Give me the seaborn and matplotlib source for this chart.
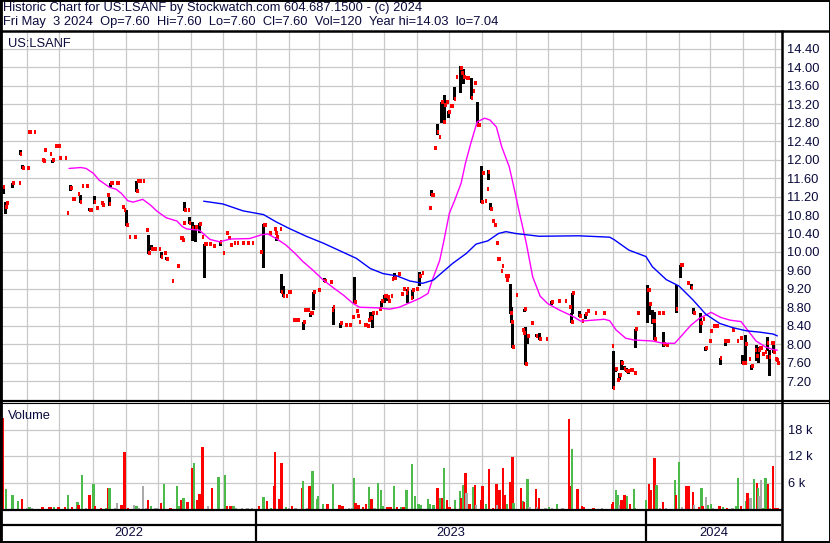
import matplotlib
matplotlib.use('Agg')
import matplotlib.pyplot as plt
import matplotlib.dates as mdates
import pandas as pd
import seaborn as sns

# ---- chart data ----
close_dates = [
    '2022-05-09', '2022-05-11', '2022-05-12', '2022-05-18', '2022-05-24', '2022-05-25', '2022-05-27',
    '2022-06-01', '2022-06-02', '2022-06-03', '2022-06-07', '2022-06-15', '2022-06-16', '2022-06-17', '2022-06-22', '2022-06-24', '2022-06-27', '2022-06-28', '2022-06-30',
    '2022-07-01', '2022-07-06', '2022-07-08', '2022-07-11', '2022-07-13', '2022-07-14', '2022-07-18', '2022-07-20', '2022-07-22', '2022-07-26', '2022-07-29', '2022-07-30',
    '2022-08-02', '2022-08-04', '2022-08-05', '2022-08-09', '2022-08-10', '2022-08-15', '2022-08-16', '2022-08-17', '2022-08-19', '2022-08-23', '2022-08-24', '2022-08-29', '2022-08-30',
    '2022-09-01', '2022-09-02', '2022-09-04', '2022-09-09', '2022-09-11', '2022-09-12', '2022-09-14', '2022-09-17', '2022-09-20', '2022-09-22', '2022-09-25', '2022-09-26', '2022-09-28',
    '2022-10-02', '2022-10-04', '2022-10-07', '2022-10-09', '2022-10-14', '2022-10-19', '2022-10-22', '2022-10-23', '2022-10-24', '2022-10-25', '2022-10-26', '2022-10-29', '2022-10-30',
    '2022-11-02', '2022-11-05', '2022-11-09', '2022-11-11', '2022-11-13', '2022-11-15', '2022-11-18', '2022-11-22', '2022-11-28',
    '2022-12-01', '2022-12-04', '2022-12-06', '2022-12-08', '2022-12-11', '2022-12-14', '2022-12-19', '2022-12-24', '2022-12-28',
    '2023-01-05', '2023-01-08', '2023-01-09', '2023-01-13', '2023-01-14', '2023-01-18', '2023-01-19', '2023-01-20', '2023-01-23', '2023-01-24', '2023-01-26', '2023-01-29', '2023-01-31',
    '2023-02-01', '2023-02-05', '2023-02-07', '2023-02-09', '2023-02-14', '2023-02-15', '2023-02-18', '2023-02-21', '2023-02-22', '2023-02-23', '2023-02-24', '2023-02-28',
    '2023-03-06', '2023-03-11', '2023-03-12', '2023-03-13', '2023-03-14', '2023-03-21', '2023-03-25', '2023-03-26', '2023-03-29',
    '2023-04-01', '2023-04-03', '2023-04-05', '2023-04-06', '2023-04-07', '2023-04-12', '2023-04-13', '2023-04-15', '2023-04-16', '2023-04-18', '2023-04-20', '2023-04-23', '2023-04-26', '2023-04-27', '2023-04-28',
    '2023-05-01', '2023-05-02', '2023-05-04', '2023-05-05', '2023-05-07', '2023-05-08', '2023-05-10', '2023-05-11', '2023-05-14', '2023-05-17', '2023-05-19', '2023-05-21', '2023-05-22', '2023-05-26', '2023-05-27', '2023-05-31',
    '2023-06-03', '2023-06-05', '2023-06-12', '2023-06-14', '2023-06-15', '2023-06-17', '2023-06-19', '2023-06-21', '2023-06-23', '2023-06-24', '2023-06-25', '2023-06-26', '2023-06-28', '2023-06-30',
    '2023-07-02', '2023-07-03', '2023-07-05', '2023-07-07', '2023-07-11', '2023-07-12', '2023-07-14', '2023-07-17', '2023-07-18', '2023-07-21', '2023-07-23', '2023-07-24', '2023-07-27', '2023-07-28', '2023-07-31',
    '2023-08-01', '2023-08-03', '2023-08-05', '2023-08-06', '2023-08-08', '2023-08-10', '2023-08-12', '2023-08-14', '2023-08-15', '2023-08-16', '2023-08-18', '2023-08-19', '2023-08-22', '2023-08-23', '2023-08-24', '2023-08-27', '2023-08-28', '2023-08-29',
    '2023-09-01', '2023-09-07', '2023-09-08', '2023-09-09', '2023-09-10', '2023-09-12', '2023-09-15', '2023-09-16', '2023-09-20', '2023-09-23', '2023-09-29',
    '2023-10-04', '2023-10-05', '2023-10-11', '2023-10-17', '2023-10-21', '2023-10-23', '2023-10-24', '2023-10-30', '2023-10-31',
    '2023-11-02', '2023-11-05', '2023-11-07', '2023-11-14', '2023-11-22', '2023-11-30',
    '2023-12-01', '2023-12-03', '2023-12-05', '2023-12-07', '2023-12-09', '2023-12-11', '2023-12-13', '2023-12-15', '2023-12-17', '2023-12-18', '2023-12-21', '2023-12-22', '2023-12-24',
    '2024-01-02', '2024-01-03', '2024-01-04', '2024-01-07', '2024-01-08', '2024-01-09', '2024-01-12', '2024-01-13', '2024-01-16', '2024-01-17', '2024-01-20', '2024-01-29',
    '2024-02-02', '2024-02-03', '2024-02-08', '2024-02-09', '2024-02-12', '2024-02-14', '2024-02-21', '2024-02-23', '2024-02-25', '2024-02-26', '2024-02-29',
    '2024-03-01', '2024-03-04', '2024-03-05', '2024-03-06', '2024-03-07', '2024-03-10', '2024-03-14', '2024-03-15', '2024-03-17', '2024-03-22', '2024-03-26', '2024-03-29', '2024-03-31',
    '2024-04-02', '2024-04-03', '2024-04-06', '2024-04-08', '2024-04-09', '2024-04-12', '2024-04-13', '2024-04-15', '2024-04-16', '2024-04-17', '2024-04-19', '2024-04-21', '2024-04-22', '2024-04-23', '2024-04-25', '2024-04-27', '2024-04-28', '2024-04-29',
    '2024-05-01', '2024-05-02', '2024-05-03',
]
closes = [
    11.41, 10.97, 11.06, 11.49, 11.49, 12.12, 11.82,
    11.82, 12.60, 12.60, 12.60, 11.99, 11.97, 12.20, 12.12, 11.99, 12.29, 12.29, 12.29,
    12.03, 12.03, 10.84, 11.38, 11.15, 11.15, 11.25, 11.08, 11.43, 11.43, 10.91, 10.91,
    11.08, 10.95, 10.95, 11.06, 11.01, 11.23, 11.03, 11.49, 11.49, 11.49, 11.49, 10.97, 10.91,
    10.58, 10.58, 10.32, 10.32, 11.32, 11.53, 11.53, 11.53, 10.47, 9.97, 10.06, 10.06, 10.06,
    10.06, 9.89, 9.97, 9.84, 9.37, 9.69, 10.30, 10.30, 10.26, 10.62, 10.91, 10.91, 10.62,
    10.52, 10.54, 10.60, 10.32, 10.17, 10.17, 10.17, 10.13, 10.21,
    9.97, 10.41, 10.30, 10.15, 10.19, 10.19, 10.19, 10.19, 10.19,
    9.99, 10.58, 10.58, 10.41, 10.41, 10.49, 10.41, 10.32, 10.49, 9.13, 9.04, 9.04, 9.13,
    9.13, 8.52, 8.52, 8.52, 8.48, 8.74, 8.74, 8.67, 8.67, 9.13, 9.13, 9.17,
    9.37, 9.35, 9.35, 8.74, 8.80, 8.46, 8.41, 8.41, 8.41,
    8.59, 8.91, 8.72, 8.61, 8.48, 8.41, 8.41, 8.39, 8.52, 8.57, 8.67, 8.67, 8.76, 8.76, 8.93,
    9.04, 9.04, 9.02, 8.93, 9.04, 9.41, 9.43, 9.43, 9.52, 9.09, 9.19, 9.11, 9.19, 9.00, 9.17, 9.19,
    9.48, 9.54, 10.96, 11.23, 11.23, 12.25, 12.60, 12.49, 13.25, 13.25, 12.81, 13.18, 13.25, 13.03,
    13.16, 13.16, 13.31, 13.79, 13.99, 13.88, 13.79, 13.77, 13.77, 13.34, 13.49, 13.66, 12.75, 12.75, 11.08,
    11.71, 11.10, 11.36, 11.73, 10.93, 10.67, 10.58, 10.19, 9.84, 9.84, 9.58, 9.69, 9.48, 9.39, 9.48, 8.67, 8.48, 7.94,
    9.06, 8.30, 8.24, 8.76, 7.57, 8.18, 8.46, 8.46, 8.18, 8.11, 8.11,
    8.91, 8.91, 8.93, 8.93, 8.80, 8.48, 9.11, 8.61, 8.61,
    8.50, 8.65, 8.72, 8.67, 8.67, 7.96,
    7.04, 7.46, 7.22, 7.33, 7.59, 7.46, 7.42, 7.42, 7.44, 7.44, 7.37, 8.33, 8.67,
    9.17, 9.17, 8.87, 8.50, 8.50, 8.11, 8.67, 8.67, 8.67, 8.00, 7.98, 8.76,
    9.71, 9.71, 9.32, 9.32, 9.22, 8.67, 8.46, 8.54, 7.92, 7.92, 8.07,
    8.28, 8.39, 8.39, 8.39, 8.39, 7.70, 8.07, 8.07, 8.07, 8.30, 8.07, 8.13, 7.59,
    7.59, 8.00, 7.68, 7.53, 7.53, 7.87, 7.74, 7.87, 7.92, 7.92, 7.79, 7.83, 7.72, 8.02, 7.72, 8.02, 8.02, 7.83,
    7.68, 7.66, 7.60,
]

# days that traded in a range (high/low bar)
range_dates = [
    '2022-05-09', '2022-05-11', '2022-05-18', '2022-05-25', '2022-05-27', '2022-06-24', '2022-07-11', '2022-07-20',
    '2022-07-29', '2022-08-02', '2022-08-16', '2022-08-17', '2022-09-01', '2022-09-11', '2022-09-22', '2022-09-25',
    '2022-10-04', '2022-10-09', '2022-10-26', '2022-10-30', '2022-11-02', '2022-11-05', '2022-11-09', '2022-11-13', '2022-11-28',
    '2023-01-08', '2023-01-20', '2023-01-24', '2023-01-26', '2023-02-14', '2023-02-21', '2023-02-23', '2023-03-06',
    '2023-03-14', '2023-03-21', '2023-04-03', '2023-04-18', '2023-04-20', '2023-04-28', '2023-05-01', '2023-05-04',
    '2023-05-10', '2023-05-22', '2023-05-27', '2023-06-03', '2023-06-14', '2023-06-19', '2023-06-23', '2023-06-26',
    '2023-06-30', '2023-07-05', '2023-07-11', '2023-07-14', '2023-07-21', '2023-07-27', '2023-07-31', '2023-08-06',
    '2023-08-08', '2023-08-27', '2023-08-28', '2023-08-29', '2023-09-09', '2023-09-10', '2023-09-12', '2023-09-20',
    '2023-09-23', '2023-10-04', '2023-10-23', '2023-10-24', '2023-10-30', '2023-11-05', '2023-12-01', '2023-12-03',
    '2023-12-07', '2023-12-09', '2023-12-11', '2023-12-13', '2023-12-15', '2023-12-22',
    '2024-01-02', '2024-01-04', '2024-01-07', '2024-01-09', '2024-01-17', '2024-01-29', '2024-02-02', '2024-02-12',
    '2024-02-14', '2024-02-21', '2024-02-25', '2024-03-10', '2024-03-15', '2024-03-31', '2024-04-03', '2024-04-08',
    '2024-04-13', '2024-04-15', '2024-04-23', '2024-04-25', '2024-04-29',
]
range_high = [
    11.41, 11.08, 11.49, 12.20, 11.88, 11.99, 11.45, 11.23,
    10.95, 11.21, 11.19, 11.49, 10.91, 11.53, 10.36, 10.14,
    10.00, 9.89, 11.08, 10.76, 10.65, 10.58, 10.62, 10.17, 10.24,
    10.60, 10.32, 9.52, 9.26, 8.48, 8.67, 9.13, 9.43,
    8.80, 8.46, 9.45, 8.70, 8.67, 8.93, 9.06, 9.02,
    9.54, 9.19, 9.17, 9.56, 11.34, 12.77, 13.25, 13.40,
    13.05, 13.57, 14.03, 13.97, 13.77, 13.25, 11.86, 11.77,
    11.06, 9.30, 8.80, 8.48, 8.76, 8.37, 8.18, 8.22,
    8.24, 8.93, 8.67, 9.11, 8.72, 8.65, 7.85, 7.48,
    7.37, 7.66, 7.53, 7.48, 7.44, 8.33,
    9.28, 8.87, 8.74, 8.70, 8.26, 9.28, 9.71, 9.30,
    8.78, 8.67, 7.94, 7.70, 8.07, 7.76, 8.20, 7.55,
    7.98, 7.94, 8.15, 7.87, 8.02,
]
range_low = [
    11.28, 10.84, 11.41, 12.12, 11.82, 11.94, 11.34, 11.08,
    10.91, 11.06, 11.01, 11.43, 10.58, 11.32, 9.97, 10.06,
    9.89, 9.84, 10.91, 10.62, 10.26, 10.24, 10.43, 9.45, 10.15,
    9.67, 10.26, 9.13, 9.04, 8.33, 8.61, 8.76, 9.37,
    8.44, 8.37, 8.91, 8.57, 8.37, 8.83, 8.91, 8.96,
    9.43, 8.91, 9.00, 9.28, 11.23, 12.56, 12.81, 12.79,
    12.92, 13.31, 13.47, 13.66, 13.34, 12.75, 11.08, 11.58,
    10.93, 8.67, 8.48, 7.94, 8.72, 7.57, 8.02, 8.18,
    8.11, 8.87, 8.48, 8.67, 8.61, 8.57, 7.04, 7.42,
    7.24, 7.46, 7.46, 7.42, 7.37, 7.94,
    8.48, 8.65, 8.46, 8.11, 7.96, 8.69, 9.45, 9.22,
    8.67, 8.26, 7.87, 7.57, 7.98, 7.59, 7.59, 7.46,
    7.66, 7.61, 7.87, 7.33, 7.83,
]

# short moving average (pink) and long moving average (blue)
ma_fast_dates = [
    '2022-07-10', '2022-07-21', '2022-07-26', '2022-08-02', '2022-08-07', '2022-08-17', '2022-08-23', '2022-08-28',
    '2022-09-03', '2022-09-08', '2022-09-17', '2022-09-24', '2022-09-30', '2022-10-09', '2022-10-19', '2022-10-24',
    '2022-10-28', '2022-11-09', '2022-11-19', '2022-11-28', '2022-12-08', '2022-12-26',
    '2023-01-06', '2023-01-12', '2023-01-20', '2023-01-29', '2023-02-06', '2023-02-14', '2023-02-23', '2023-03-05',
    '2023-03-14', '2023-03-24', '2023-04-02', '2023-04-08', '2023-04-24', '2023-05-06', '2023-05-15', '2023-05-23',
    '2023-06-03', '2023-06-11', '2023-06-15', '2023-06-22', '2023-06-26', '2023-07-01', '2023-07-06', '2023-07-12',
    '2023-07-16', '2023-07-21', '2023-07-27', '2023-08-03', '2023-08-08', '2023-08-14', '2023-08-19', '2023-08-26',
    '2023-08-31', '2023-09-04', '2023-09-11', '2023-09-17', '2023-09-24', '2023-10-01', '2023-10-12', '2023-10-24',
    '2023-11-01', '2023-11-12', '2023-11-23', '2023-11-28', '2023-12-04', '2023-12-13', '2023-12-21',
    '2024-01-07', '2024-01-17', '2024-01-28', '2024-02-04', '2024-02-12', '2024-02-20', '2024-03-02', '2024-03-11',
    '2024-03-20', '2024-03-30', '2024-04-05', '2024-04-13', '2024-04-22', '2024-04-28', '2024-05-03',
]
ma_fast = [
    11.81, 11.83, 11.81, 11.70, 11.56, 11.40, 11.36, 11.27,
    11.11, 11.08, 11.14, 11.02, 10.89, 10.74, 10.67, 10.55,
    10.50, 10.47, 10.27, 10.22, 10.28, 10.29,
    10.37, 10.39, 10.29, 10.15, 9.98, 9.79, 9.61, 9.39,
    9.23, 9.06, 8.88, 8.80, 8.79, 8.76, 8.80, 8.88,
    8.99, 9.10, 9.39, 9.82, 10.26, 10.84, 11.12, 11.49,
    11.92, 12.35, 12.82, 12.90, 12.86, 12.71, 12.28, 11.85,
    11.34, 10.91, 10.19, 9.46, 9.04, 8.88, 8.74, 8.61,
    8.50, 8.52, 8.54, 8.51, 8.31, 8.13, 8.09,
    8.07, 8.02, 8.02, 8.20, 8.41, 8.56, 8.69, 8.58,
    8.52, 8.49, 8.31, 8.07, 7.94, 7.89, 7.87,
]
ma_slow_dates = [
    '2022-11-13', '2022-12-01', '2022-12-20',
    '2023-01-08', '2023-01-20', '2023-02-01', '2023-02-17', '2023-03-05', '2023-03-21', '2023-04-05', '2023-04-18',
    '2023-04-30', '2023-05-13', '2023-05-25', '2023-06-06', '2023-06-16', '2023-06-25', '2023-07-04', '2023-07-17',
    '2023-07-26', '2023-08-06', '2023-08-16', '2023-08-23', '2023-09-01', '2023-09-23', '2023-10-30', '2023-11-28',
    '2023-12-02', '2023-12-16',
    '2024-01-01', '2024-01-07', '2024-01-20', '2024-02-01', '2024-02-14', '2024-02-26', '2024-03-10', '2024-03-22',
    '2024-04-04', '2024-04-17', '2024-04-29', '2024-05-03',
]
ma_slow = [
    11.10, 11.04, 10.89,
    10.81, 10.65, 10.51, 10.34, 10.19, 10.02, 9.86, 9.64,
    9.53, 9.48, 9.37, 9.32, 9.39, 9.57, 9.75, 9.97,
    10.17, 10.24, 10.40, 10.44, 10.40, 10.34, 10.35, 10.32,
    10.27, 10.04,
    9.90, 9.68, 9.40, 9.26, 8.96, 8.65, 8.45, 8.36,
    8.29, 8.26, 8.22, 8.18,
]

# volume: d = down day (red), u = up day (green), n = unchanged (grey)
vol_dates = [
    '2022-05-09', '2022-05-12', '2022-05-18', '2022-05-23', '2022-05-27',
    '2022-06-01', '2022-06-03', '2022-06-05', '2022-06-15', '2022-06-21', '2022-06-23', '2022-06-26', '2022-06-30',
    '2022-07-06', '2022-07-09', '2022-07-13', '2022-07-18', '2022-07-19', '2022-07-22', '2022-07-26', '2022-07-29',
    '2022-08-02', '2022-08-03', '2022-08-09', '2022-08-14', '2022-08-16', '2022-08-17', '2022-08-22', '2022-08-24', '2022-08-28', '2022-08-31',
    '2022-09-03', '2022-09-09', '2022-09-11', '2022-09-13', '2022-09-17', '2022-09-20', '2022-09-22', '2022-09-25', '2022-09-29',
    '2022-10-01', '2022-10-04', '2022-10-07', '2022-10-13', '2022-10-19', '2022-10-21', '2022-10-23', '2022-10-25', '2022-10-29',
    '2022-11-02', '2022-11-04', '2022-11-07', '2022-11-09', '2022-11-12', '2022-11-17', '2022-11-21', '2022-11-27',
    '2022-12-03', '2022-12-05', '2022-12-08', '2022-12-11', '2022-12-13', '2022-12-19', '2022-12-24', '2022-12-28',
    '2023-01-04', '2023-01-08', '2023-01-11', '2023-01-15', '2023-01-18', '2023-01-19', '2023-01-23', '2023-01-25', '2023-01-29',
    '2023-02-01', '2023-02-04', '2023-02-07', '2023-02-13', '2023-02-14', '2023-02-18', '2023-02-20', '2023-02-23', '2023-02-27', '2023-02-28',
    '2023-03-05', '2023-03-09', '2023-03-14', '2023-03-20', '2023-03-23', '2023-03-29',
    '2023-04-01', '2023-04-03', '2023-04-04', '2023-04-07', '2023-04-11', '2023-04-14', '2023-04-17', '2023-04-19', '2023-04-22', '2023-04-25', '2023-04-28', '2023-04-30',
    '2023-05-04', '2023-05-07', '2023-05-10', '2023-05-13', '2023-05-17', '2023-05-19', '2023-05-22', '2023-05-27', '2023-05-30',
    '2023-06-02', '2023-06-04', '2023-06-11', '2023-06-13', '2023-06-16', '2023-06-20', '2023-06-22', '2023-06-24', '2023-06-26', '2023-06-29',
    '2023-07-01', '2023-07-06', '2023-07-11', '2023-07-12', '2023-07-14', '2023-07-16', '2023-07-17', '2023-07-20', '2023-07-23', '2023-07-25', '2023-07-26', '2023-07-31',
    '2023-08-01', '2023-08-04', '2023-08-07', '2023-08-11', '2023-08-14', '2023-08-15', '2023-08-17', '2023-08-20', '2023-08-22', '2023-08-24', '2023-08-27', '2023-08-29', '2023-08-30',
    '2023-09-06', '2023-09-08', '2023-09-09', '2023-09-12', '2023-09-14', '2023-09-20', '2023-09-21', '2023-09-23', '2023-09-29',
    '2023-10-02', '2023-10-05', '2023-10-10', '2023-10-15', '2023-10-21', '2023-10-23', '2023-10-24', '2023-10-29',
    '2023-11-02', '2023-11-04', '2023-11-13', '2023-11-21', '2023-11-30',
    '2023-12-01', '2023-12-04', '2023-12-06', '2023-12-07', '2023-12-09', '2023-12-12', '2023-12-14', '2023-12-17', '2023-12-21', '2023-12-22',
    '2024-01-01', '2024-01-04', '2024-01-06', '2024-01-09', '2024-01-11', '2024-01-14', '2024-01-17', '2024-01-20', '2024-01-28', '2024-01-29',
    '2024-02-01', '2024-02-04', '2024-02-08', '2024-02-10', '2024-02-14', '2024-02-15', '2024-02-20', '2024-02-22', '2024-02-23', '2024-02-26', '2024-02-28',
    '2024-03-02', '2024-03-04', '2024-03-10', '2024-03-13', '2024-03-17', '2024-03-22', '2024-03-25', '2024-03-27', '2024-03-30',
    '2024-04-04', '2024-04-05', '2024-04-08', '2024-04-11', '2024-04-14', '2024-04-15', '2024-04-16', '2024-04-18', '2024-04-20', '2024-04-22', '2024-04-24', '2024-04-26', '2024-04-29',
    '2024-05-01', '2024-05-02', '2024-05-03',
]
vol_values = [
    20500, 4500, 3200, 1700, 2300,
    300, 500, 300, 450, 400, 400, 500, 400,
    400, 3200, 400, 1600, 900, 7700, 300, 3200,
    5700, 700, 300, 300, 4800, 4700, 300, 1400, 900, 12800,
    200, 900, 700, 300, 5200, 300, 2000, 700, 300,
    300, 1400, 5700, 300, 5200, 700, 2000, 2500, 1600,
    9300, 10400, 2000, 3300, 14000, 700, 4800, 7200,
    7700, 700, 700, 700, 300, 300, 300, 300,
    700, 2700, 1700, 200, 5200, 12800, 2300, 10400, 400,
    300, 700, 300, 4800, 6400, 300, 5200, 8500, 2200, 2900,
    1100, 1100, 5700, 900, 700, 300,
    300, 7000, 1400, 900, 500, 1100, 5000, 2300, 300, 5900, 4200, 700,
    500, 500, 5200, 500, 500, 500, 4300, 10200, 2900,
    1100, 900, 2300, 1100, 900, 4800, 2400, 2500, 9300, 2000,
    500, 2000, 4100, 2500, 5400, 8200, 3600, 1100, 5000, 5400, 900, 2000,
    5200, 1100, 9100, 200, 5700, 900, 4300, 9300, 3200, 1100, 6100, 11800, 1400,
    4800, 1800, 1600, 6800, 500, 4500, 500, 2500, 200,
    500, 200, 1100, 200, 20400, 5200, 13600, 4500,
    700, 500, 200, 200, 1100,
    1600, 4300, 3200, 900, 2000, 3200, 2900, 1100, 4500, 200,
    2000, 5700, 4300, 11600, 5400, 200, 1600, 200, 6600, 3200,
    10600, 500, 5200, 5200, 3900, 900, 500, 4800, 700, 2700, 900,
    1100, 200, 700, 500, 200, 200, 700, 7000, 700,
    1800, 3600, 2500, 6800, 5900, 4800, 2900, 6600, 200, 7000, 5700, 200, 9700,
    300, 300, 120,
]
vol_dirs = [
    'd', 'u', 'u', 'u', 'd',
    'n', 'u', 'n', 'd', 'd', 'd', 'u', 'd',
    'd', 'u', 'd', 'u', 'd', 'u', 'n', 'd',
    'u', 'd', 'd', 'u', 'd', 'u', 'n', 'n', 'd', 'd',
    'd', 'n', 'u', 'n', 'n', 'n', 'd', 'u', 'n',
    'n', 'd', 'u', 'd', 'u', 'u', 'd', 'u', 'd',
    'd', 'u', 'd', 'd', 'd', 'n', 'd', 'u',
    'u', 'd', 'd', 'u', 'n', 'n', 'n', 'n',
    'd', 'u', 'd', 'u', 'd', 'd', 'd', 'd', 'u',
    'n', 'd', 'n', 'd', 'u', 'n', 'd', 'u', 'u', 'u',
    'u', 'd', 'u', 'd', 'd', 'n',
    'n', 'u', 'd', 'd', 'd', 'd', 'u', 'd', 'n', 'u', 'u', 'u',
    'd', 'd', 'u', 'd', 'u', 'd', 'u', 'u', 'u',
    'u', 'u', 'u', 'u', 'u', 'd', 'u', 'd', 'u', 'd',
    'd', 'u', 'u', 'd', 'u', 'd', 'n', 'd', 'u', 'd', 'n', 'd',
    'd', 'u', 'd', 'd', 'd', 'n', 'd', 'd', 'd', 'u', 'd', 'd', 'u',
    'd', 'u', 'd', 'u', 'n', 'd', 'n', 'd', 'n',
    'u', 'n', 'u', 'n', 'd', 'd', 'u', 'd',
    'd', 'd', 'd', 'n', 'd',
    'd', 'u', 'u', 'n', 'd', 'd', 'u', 'd', 'u', 'u',
    'u', 'd', 'd', 'd', 'u', 'n', 'd', 'n', 'u', 'd',
    'u', 'n', 'd', 'd', 'd', 'n', 'd', 'u', 'd', 'n', 'u',
    'u', 'n', 'd', 'u', 'd', 'n', 'u', 'u', 'd',
    'u', 'd', 'n', 'u', 'd', 'u', 'n', 'n', 'u', 'u', 'd', 'n', 'd',
    'd', 'd', 'd',
]

price_ticks = [7.20, 7.60, 8.00, 8.40, 8.80, 9.20, 9.60, 10.00, 10.40, 10.80,
               11.20, 11.60, 12.00, 12.40, 12.80, 13.20, 13.60, 14.00, 14.40]
vol_ticks = [6000, 12000, 18000]
vol_tick_labels = ['6 k', '12 k', '18 k']
year_labels = ['2022', '2023', '2024']
year_starts = ['2023-01-01', '2024-01-01']

title_line = 'Historic Chart for US:LSANF by Stockwatch.com 604.687.1500 - (c) 2024'
quote_line = 'Fri May  3 2024  Op=7.60  Hi=7.60  Lo=7.60  Cl=7.60  Vol=120  Year hi=14.03  lo=7.04'

# ---- styling ----
sns.set_theme(style='white')
plt.rcParams['font.family'] = ['Liberation Sans', 'DejaVu Sans']
TXT = '#0a0a3c'
GRID = '#c8c8c8'
FS = 9.3
DIR_COLORS = {'d': '#ff0000', 'u': '#4cbb4c', 'n': '#aaaaaa'}

W, H = 830, 543
fig = plt.figure(figsize=(W / 100, H / 100), dpi=100)
fig.patch.set_facecolor('white')


def px_box(x0, y0, x1, y1):
    return [x0 / W, 1 - y1 / H, (x1 - x0) / W, (y1 - y0) / H]


ax = fig.add_axes(px_box(2, 31, 781, 400))
axv = fig.add_axes(px_box(2, 403, 781, 509), sharex=ax)
axb = fig.add_axes(px_box(2, 510, 781, 541), sharex=ax)

x_left = pd.Timestamp('2022-05-08 06:00')
x_right = pd.Timestamp('2024-05-06 10:00')

cd = pd.to_datetime(close_dates)
rd = pd.to_datetime(range_dates)

# price panel
ax.vlines(rd, range_low, range_high, color='black', lw=1.0, zorder=3, antialiased=False)
ax.hlines(closes, cd, cd + pd.Timedelta(days=2.4), color='#ff0000', lw=1.7, zorder=4, antialiased=False)
sns.lineplot(x=pd.to_datetime(ma_fast_dates), y=ma_fast, ax=ax, color='#ff00ff', lw=1.0, zorder=5)
sns.lineplot(x=pd.to_datetime(ma_slow_dates), y=ma_slow, ax=ax, color='#0000ff', lw=1.0, zorder=5)

ax.set_xlim(x_left, x_right)
ax.set_ylim(6.79, 14.79)
ax.set_yticks(price_ticks)
ax.set_yticklabels([f'{t:.2f}' for t in price_ticks])
ax.yaxis.tick_right()
ax.tick_params(axis='y', length=0, pad=4, labelsize=FS, labelcolor=TXT)
ax.xaxis.set_major_locator(mdates.MonthLocator())
ax.tick_params(axis='x', length=0, labelbottom=False)
ax.grid(True, color=GRID, lw=0.9)
ax.set_xlabel('')
ax.set_ylabel('')
ax.text(0.008, 0.966, 'US:LSANF', transform=ax.transAxes, fontsize=FS, color=TXT, va='center')

# volume panel
vd = pd.to_datetime(vol_dates)
axv.bar(vd, vol_values, width=2.2, color=[DIR_COLORS[d] for d in vol_dirs], lw=0, zorder=3, antialiased=False)
axv.set_ylim(0, 24000)
axv.set_yticks(vol_ticks)
axv.set_yticklabels(vol_tick_labels)
axv.yaxis.tick_right()
axv.tick_params(axis='y', length=0, pad=5, labelsize=FS, labelcolor=TXT)
axv.tick_params(axis='x', length=0, labelbottom=False)
axv.grid(True, color=GRID, lw=0.9)
axv.text(0.008, 0.88, 'Volume', transform=axv.transAxes, fontsize=FS, color=TXT, va='center')

# year band
axb.set_ylim(0, 2)
axb.set_yticks([])
axb.tick_params(axis='x', length=0, labelbottom=False)
axb.axhline(1.05, color='black', lw=1.6)
bounds = [x_left] + list(pd.to_datetime(year_starts)) + [x_right]
for b in pd.to_datetime(year_starts):
    axb.axvline(b, color='black', lw=1.6)
for lab, a, b in zip(year_labels, bounds[:-1], bounds[1:]):
    axb.text(a + (b - a) / 2, 0.5, lab, ha='center', va='center', fontsize=FS, color=TXT)

for a in (ax, axv, axb):
    for s in a.spines.values():
        s.set_visible(False)
    a.set_facecolor('white')

# frame and header drawn in pixel space
ov = fig.add_axes([0, 0, 1, 1], zorder=10)
ov.set_xlim(0, W)
ov.set_ylim(H, 0)
ov.axis('off')
ov.patch.set_alpha(0)
frame = dict(color='black', solid_capstyle='butt')
ov.plot([0, W, W, 0, 0], [0.5, 0.5, H - 0.8, H - 0.8, 0.5], lw=1.4, **frame)
ov.plot([1, 1], [0, H], lw=2.0, **frame)
ov.plot([0, W], [30.5, 30.5], lw=1.8, **frame)
ov.plot([782, 782], [30, H], lw=1.8, **frame)
ov.plot([0, W], [400.8, 400.8], lw=1.6, **frame)
ov.plot([0, W], [403.0, 403.0], lw=0.8, **frame)
ov.plot([0, 782], [509.8, 509.8], lw=1.6, **frame)
ov.text(3, 8.5, title_line, fontsize=FS, color=TXT, va='center', ha='left')
ov.text(3, 21.5, quote_line, fontsize=FS, color=TXT, va='center', ha='left')

fig.savefig('out.png', dpi=100)
